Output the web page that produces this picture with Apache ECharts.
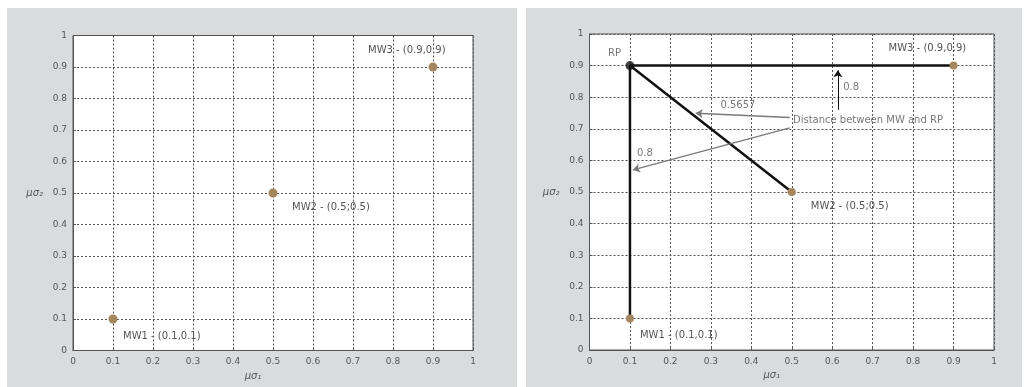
<!DOCTYPE html>
<html><head><meta charset="utf-8">
<script src="https://cdn.jsdelivr.net/npm/echarts@6/dist/echarts.min.js"></script>
<style>html,body{margin:0;padding:0;background:#fff}#c{width:1026px;height:387px}</style>
</head><body><div id="c"></div>
<script>
// Member points (MW) and reference point (RP) in the normalised μσ plane
const mwNames = ['MW1', 'MW2', 'MW3'];
const mwX = [0.1, 0.5, 0.9];
const mwY = [0.1, 0.5, 0.9];
const mwLabels = ['MW1 - (0.1,0.1)', 'MW2 - (0.5;0.5)', 'MW3 - (0.9,0.9)'];
const rp = [0.1, 0.9];
const rpName = 'RP';
const noteText = 'Distance between MW and RP';
const xName = 'μσ₁';
const yName = 'μσ₂';

// Callout geometry in axis units: text anchor, arrow tails/heads and distance label spots (per MW)
const noteAnchor = [0.503, 0.728];
const arrowFrom = [[0.495, 0.703], [0.495, 0.736], [0.614, 0.76]];
const arrowTo = [[0.1075, 0.57], [0.2625, 0.749], [0.614, 0.885]];
const distLabelAt = [[0.137, 0.623], [0.367, 0.775], [0.647, 0.83]];

// Euclidean distance from RP to each MW, printed the way MATLAB would
const distances = mwX.map((x, i) => Math.hypot(x - rp[0], mwY[i] - rp[1]));
const distText = distances.map(d => String(Number(d.toFixed(4))));

const FONT = 'DejaVu Sans';
const TXT = '#555';
const MW_COLOR = '#a5875f';
const labelOffsets = [[10, 17], [19, 14], [-65, -17]];

function axes(gridIndex) {
  const common = {
    gridIndex, type: 'value', min: 0, max: 1, interval: 0.1,
    nameLocation: 'middle',
    axisLine: { show: true, lineStyle: { color: '#555', width: 1 } },
    axisTick: { show: true, inside: true, length: 3, lineStyle: { color: '#555' } },
    axisLabel: { color: TXT, fontSize: 9, fontFamily: FONT, formatter: v => String(Math.round(v * 10) / 10) },
    splitLine: { show: true, lineStyle: { color: '#555', type: [2, 2], width: 1 } }
  };
  return {
    x: Object.assign({}, common, {
      name: xName, nameGap: 20,
      nameTextStyle: { color: TXT, fontSize: 10, fontFamily: FONT, fontStyle: 'italic', padding: [0, 40, 0, 0] },
      axisLabel: Object.assign({}, common.axisLabel, { margin: 7 })
    }),
    y: Object.assign({}, common, {
      name: yName, nameGap: 30, nameRotate: 0,
      nameTextStyle: { color: TXT, fontSize: 10, fontFamily: FONT, fontStyle: 'italic', padding: [0, 0, 26, 0] },
      axisLabel: Object.assign({}, common.axisLabel, { margin: 6 })
    })
  };
}

const a0 = axes(0), a1 = axes(1);

function mwScatter(gridIndex, size) {
  return {
    type: 'scatter', xAxisIndex: gridIndex, yAxisIndex: gridIndex, z: 5,
    symbolSize: size, itemStyle: { color: MW_COLOR, opacity: 1 },
    data: mwX.map((x, i) => ({
      name: mwNames[i], value: [x, mwY[i]],
      label: {
        show: true, position: 'inside', align: 'left', verticalAlign: 'middle',
        offset: labelOffsets[i], formatter: mwLabels[i],
        color: TXT, fontSize: 10, fontFamily: FONT
      }
    })),
    silent: true
  };
}

const series = [];
series.push(mwScatter(0, 9));

// RP -> MW connecting segments
mwX.forEach((x, i) => {
  series.push({
    type: 'line', xAxisIndex: 1, yAxisIndex: 1, z: 3, symbol: 'none',
    lineStyle: { color: '#111', width: 2.5 },
    data: [[rp[0], rp[1]], [x, mwY[i]]], silent: true
  });
});
series.push(mwScatter(1, 8));

// Reference point
series.push({
  type: 'scatter', xAxisIndex: 1, yAxisIndex: 1, z: 6, symbolSize: 9,
  itemStyle: { color: '#111' },
  data: [{
    name: rpName, value: rp,
    label: { show: true, position: 'inside', align: 'left', verticalAlign: 'middle', offset: [-22, -12],
      formatter: rpName, color: TXT, fontSize: 10, fontFamily: FONT }
  }],
  silent: true
});

// Callout text, distance labels and arrows
const noteData = [{
  value: noteAnchor,
  label: { show: true, position: 'inside', align: 'left', verticalAlign: 'middle', formatter: noteText,
    color: TXT, fontSize: 10, fontFamily: FONT }
}].concat(distLabelAt.map((p, i) => ({
  value: p,
  label: { show: true, position: 'inside', align: 'center', verticalAlign: 'middle', formatter: distText[i],
    color: TXT, fontSize: 10, fontFamily: FONT }
})));

series.push({
  type: 'scatter', xAxisIndex: 1, yAxisIndex: 1, z: 7, symbolSize: 0,
  data: noteData, silent: true,
  markLine: {
    silent: true, animation: false, symbol: ['none', 'arrow'], symbolSize: 7,
    label: { show: false },
    data: arrowFrom.map((f, i) => [
      { coord: f, lineStyle: { color: i < 2 ? '#7a7a7a' : '#111', width: i < 2 ? 1.5 : 1, type: 'solid' } },
      { coord: arrowTo[i] }
    ])
  }
});

const chart = echarts.init(document.getElementById('c'), null, { renderer: 'canvas' });
chart.setOption({
  animation: false,
  backgroundColor: '#ffffff',
  graphic: [
    { type: 'rect', shape: { x: 7, y: 8, width: 510, height: 379 }, style: { fill: '#d9dbdd' }, z: -10, silent: true },
    { type: 'rect', shape: { x: 526, y: 8, width: 496, height: 379 }, style: { fill: '#d9dbdd' }, z: -10, silent: true }
  ],
  grid: [
    { left: 73, top: 35.5, width: 400, height: 315, show: true, backgroundColor: '#fff', borderColor: '#555', borderWidth: 1 },
    { left: 589.5, top: 34, width: 404.5, height: 316, show: true, backgroundColor: '#fff', borderColor: '#555', borderWidth: 1 }
  ],
  xAxis: [a0.x, a1.x],
  yAxis: [a0.y, a1.y],
  series
});
</script>
</body></html>
